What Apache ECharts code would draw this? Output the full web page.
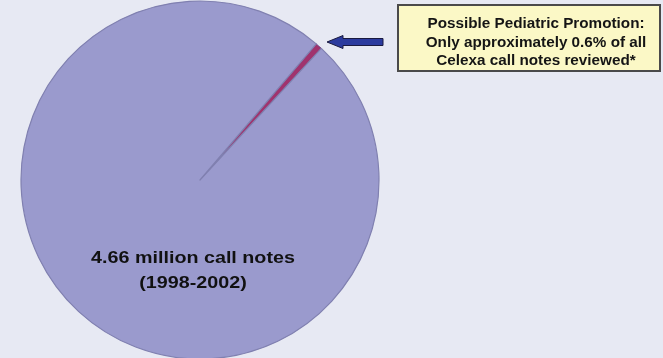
<!DOCTYPE html>
<html>
<head>
<meta charset="utf-8">
<script src="https://cdn.jsdelivr.net/npm/echarts@6/dist/echarts.min.js"></script>
<style>
html,body{margin:0;padding:0;background:#e7e9f3;}
#chart{width:663px;height:358px;}
</style>
</head>
<body>
<div id="chart"></div>
<script>
var categories = ['Possible Pediatric Promotion', 'Other call notes'];
var shares = [0.6, 99.4];
var mainLabel = ['4.66 million call notes', '(1998-2002)'];
var noteLines = ['Possible Pediatric Promotion:', 'Only approximately 0.6% of all', 'Celexa call notes reviewed*'];
var colors = ['#a0336e', '#9a9acd'];

var chart = echarts.init(document.getElementById('chart'), null, {renderer: 'canvas'});
chart.setOption({
  backgroundColor: '#e7e9f3',
  animation: false,
  series: [{
    type: 'pie',
    center: [200, 180],
    radius: [0, 179],
    startAngle: 49.5,
    clockwise: true,
    label: {show: false},
    labelLine: {show: false},
    emphasis: {disabled: true},
    data: categories.map(function (c, i) {
      return {
        name: c,
        value: shares[i],
        itemStyle: {
          color: colors[i],
          borderColor: i === 0 ? '#5a3a80' : '#8080b0',
          borderWidth: i === 0 ? 0.8 : 1.2
        }
      };
    })
  }],
  graphic: [
    {
      type: 'text',
      x: 193, y: 270.5,
      scaleX: 1.16,
      style: {
        text: mainLabel.join('\n'),
        align: 'center',
        verticalAlign: 'middle',
        font: 'bold 17px "Liberation Sans", Arial, sans-serif',
        lineHeight: 25,
        fill: '#111'
      },
      z: 10
    },
    {
      type: 'rect',
      shape: {x: 398, y: 5, width: 262, height: 66},
      style: {fill: '#fbf8c6', stroke: '#4a4a4a', lineWidth: 2},
      z: 10
    },
    {
      type: 'text',
      x: 536, y: 15,
      scaleX: 1.09,
      style: {
        text: noteLines.join('\n'),
        align: 'center',
        verticalAlign: 'top',
        font: 'bold 14px "Liberation Sans", Arial, sans-serif',
        lineHeight: 18.5,
        fill: '#151515'
      },
      z: 11
    },
    {
      type: 'polygon',
      shape: {points: [[327, 42], [343, 35.5], [343, 38.5], [383, 38.5], [383, 45.5], [343, 45.5], [343, 48.5]]},
      style: {fill: '#2c3b9e', stroke: '#1a1a40', lineWidth: 1},
      z: 10
    }
  ]
});
</script>
</body>
</html>
